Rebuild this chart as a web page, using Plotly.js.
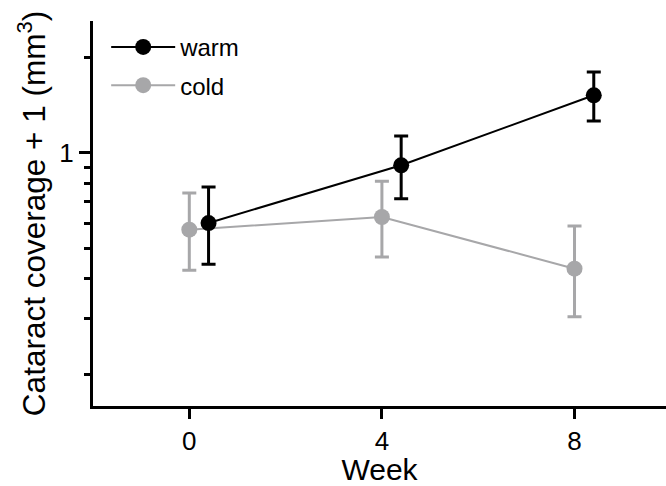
<!DOCTYPE html>
<html>
<head>
<meta charset="utf-8">
<script src="https://cdn.plot.ly/plotly-3.0.1.min.js"></script>
<style>html,body{margin:0;padding:0;background:#fff;}#chart{width:666px;height:486px;}</style>
</head>
<body>
<div id="chart"></div>
<script>
// Data
const weeks = [0, 4, 8];
const warmOffset = 0.4; // horizontal nudge for warm series
const warmMean = [0.600, 0.912, 1.515];
const warmUpper = [0.779, 1.128, 1.794];
const warmLower = [0.445, 0.716, 1.257];
const coldMean = [0.572, 0.627, 0.431];
const coldUpper = [0.746, 0.812, 0.587];
const coldLower = [0.426, 0.469, 0.304];
const yMinorTicks = [0.2, 0.3, 0.4, 0.5, 0.6, 0.7, 0.8, 0.9, 2];
const yMajorTicks = [1];
const xTicks = [0, 4, 8];

const gray = '#a7a7a9';
const font = 'Liberation Sans, Arial, sans-serif';

function errs(mean, up, lo) {
  return {
    plus: mean.map((m, i) => up[i] - m),
    minus: mean.map((m, i) => m - lo[i])
  };
}
const we = errs(warmMean, warmUpper, warmLower);
const ce = errs(coldMean, coldUpper, coldLower);

const traces = [
  {
    x: weeks, y: coldMean, name: 'cold', type: 'scatter', mode: 'lines+markers',
    legendgroup: 'b', legendrank: 2,
    line: {color: gray, width: 2},
    marker: {color: gray, size: 16},
    error_y: {type: 'data', symmetric: false, array: ce.plus, arrayminus: ce.minus,
      color: gray, thickness: 3, width: 7}
  },
  {
    x: weeks.map(w => w + warmOffset), y: warmMean, name: 'warm', type: 'scatter', mode: 'lines+markers',
    legendgroup: 'a', legendrank: 1,
    line: {color: '#000', width: 2},
    marker: {color: '#000', size: 16},
    error_y: {type: 'data', symmetric: false, array: we.plus, arrayminus: we.minus,
      color: '#000', thickness: 3, width: 7}
  }
];

const layout = {
  width: 666, height: 486,
  margin: {l: 93, r: 0, t: 21, b: 80},
  paper_bgcolor: '#fff', plot_bgcolor: '#fff',
  font: {family: font, color: '#000', size: 24},
  showlegend: true,
  legend: {
    x: 0.023, y: 0.99, xanchor: 'left', yanchor: 'top',
    traceorder: 'grouped', tracegroupgap: 4,
    font: {family: font, size: 24, color: '#000'},
    bgcolor: 'rgba(0,0,0,0)', itemwidth: 64
  },
  xaxis: {
    range: [-2, 9.9], showgrid: false, zeroline: false,
    showline: true, linecolor: '#000', linewidth: 3,
    ticks: 'outside', ticklen: 10, tickwidth: 3, tickcolor: '#000',
    tickmode: 'array', tickvals: xTicks, ticktext: xTicks.map(String),
    tickfont: {family: font, size: 26, color: '#000'},
    title: {text: 'Week', font: {family: font, size: 30, color: '#000'}, standoff: 0}
  },
  yaxis: {
    type: 'log', range: [-0.798, 0.4144], showgrid: false, zeroline: false,
    showline: true, linecolor: '#000', linewidth: 3,
    ticks: 'outside', ticklen: 11, tickwidth: 3, tickcolor: '#000',
    tickmode: 'array', tickvals: yMajorTicks, ticktext: yMajorTicks.map(String),
    tickfont: {family: font, size: 26, color: '#000'},
    minor: {tickmode: 'array', tickvals: yMinorTicks, ticks: 'outside', ticklen: 6, tickwidth: 3, tickcolor: '#000', showgrid: false},
    title: {text: 'Cataract coverage + 1 (mm<sup>3</sup>)', font: {family: font, size: 31.5, color: '#000'}, standoff: 5}
  }
};

Plotly.newPlot('chart', traces, layout, {displayModeBar: false, staticPlot: true});
</script>
</body>
</html>
